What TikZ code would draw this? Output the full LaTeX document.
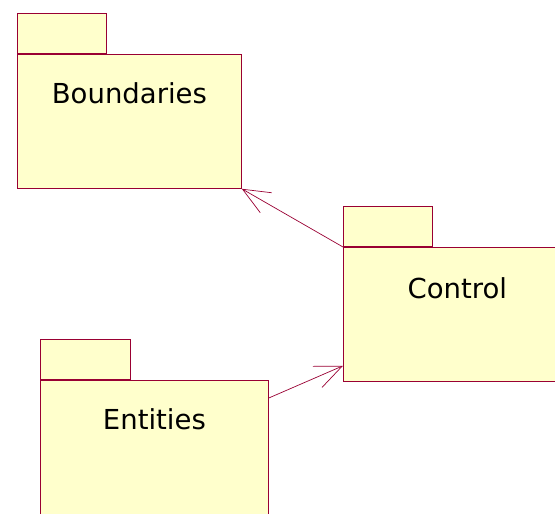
\documentclass[tikz,border=0pt]{standalone}
\usepackage{fontspec}
\setmainfont{DejaVu Sans}
\usepackage{tikz}
\usetikzlibrary{arrows.meta, positioning}
\definecolor{bordeUML}{HTML}{990033}
\definecolor{rellenoUML}{HTML}{FFFFCC}

\begin{document}
\begin{tikzpicture}[x=1pt, y=-1pt, font=\fontsize{27.5}{33}\selectfont,
        pkg/.style={draw=bordeUML, fill=rellenoUML, line width=0.8pt, inner sep=0pt,
            minimum width=224pt, minimum height=134pt, anchor=north west},
        tab/.style={draw=bordeUML, fill=rellenoUML, line width=0.8pt, inner sep=0pt,
            minimum width=89pt, minimum height=40pt, anchor=south west},
        dep/.style={-{Straight Barb[length=27pt, width=23pt]}, bordeUML, line width=0.7pt}]
        \clip (0,0) rectangle (555,514);
        \node[pkg] (bnd) at (17,54)  {};
        \node[pkg, minimum width=228pt] (ctl) at (343,247) {};
        \node[pkg, minimum width=228pt] (ent) at (40,380)  {};
        \node[tab] (bndtab) at (bnd.north west) {};
        \node[tab] (ctltab) at (ctl.north west) {};
        \node[tab, minimum width=90pt] (enttab) at (ent.north west) {};
        \node[anchor=base] (bndtxt) at ([yshift=-49pt]bnd.north) {Boundaries};
        \node[anchor=base] (ctltxt) at ([yshift=-51pt]ctl.north) {Control};
        \node[anchor=base] (enttxt) at ([yshift=-49pt]ent.north) {Entities};
        \draw[dep] (ctl.north west) -- (bnd.south east);
        \draw[dep] ([yshift=-18pt]ent.north east) -- ([yshift=16pt]ctl.south west);
    \end{tikzpicture}
\end{document}
